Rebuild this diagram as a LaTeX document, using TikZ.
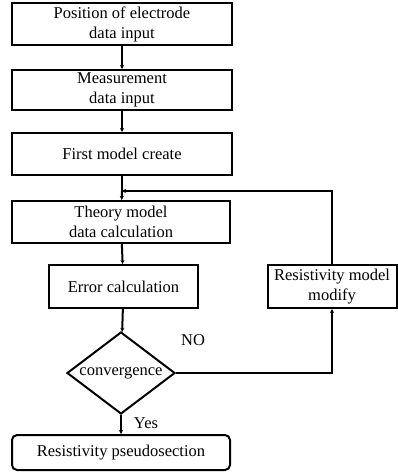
\documentclass[tikz,border=0pt]{standalone}
\usepackage{fontspec}
\setmainfont{Liberation Serif}
\usetikzlibrary{shapes.geometric,arrows.meta,calc}
\begin{document}
\begin{tikzpicture}[x=1pt,y=-1pt,
  every node/.style={font=\fontsize{16.5}{20}\selectfont},
  box/.style={draw,line width=2pt,align=center,inner sep=0pt},
  conn/.style={line width=2pt},
  arr/.style={line width=2pt,-{Stealth[length=4pt,width=4pt]}},
  lbl/.style={inner sep=0pt}]
\useasboundingbox (0,0) rectangle (397,473);
\node[box,minimum width=220pt,minimum height=42pt] (b1) at (122,24) {Position of electrode\\data input};
\node[box,minimum width=220pt,minimum height=40pt] (b2) at (122,90) {Measurement\\data input};
\node[box,minimum width=220pt,minimum height=42pt] (b3) at (122,154) {First model create};
\coordinate (j) at (122,191);
\node[box,minimum width=218pt,minimum height=42pt] (b4) at (121,222) {Theory model\\data calculation};
\node[box,minimum width=149pt,minimum height=43pt] (b5) at (123.5,286.5) {Error calculation};
\node[draw,diamond,line width=2pt,inner sep=0pt,minimum width=108pt,minimum height=82pt,aspect=1.3] (d) at (121,373) {convergence};
\node[box,rounded corners=5pt,minimum width=218pt,minimum height=35pt] (b6) at (121,452.5) {Resistivity pseudosection};
\node[box,minimum width=129pt,minimum height=43pt] (r) at (332,286.5) {Resistivity model\\modify};
\node[lbl] (no) at (193,340) {NO};
\node[lbl] (yes) at (146,423) {Yes};
\draw[arr] (b1) -- (b2);
\draw[arr] (b2) -- (b3);
\draw[conn] (b3) -- (j);
\draw[arr] (j) -- (b4);
\draw[arr] (b4) -- (b5);
\draw[arr] (b5) -- (d);
\draw[arr] (d) -- (b6);
\draw[arr] (d.east) -| (r.south);
\draw[arr] (r.north) |- (j);
\end{tikzpicture}
\end{document}
